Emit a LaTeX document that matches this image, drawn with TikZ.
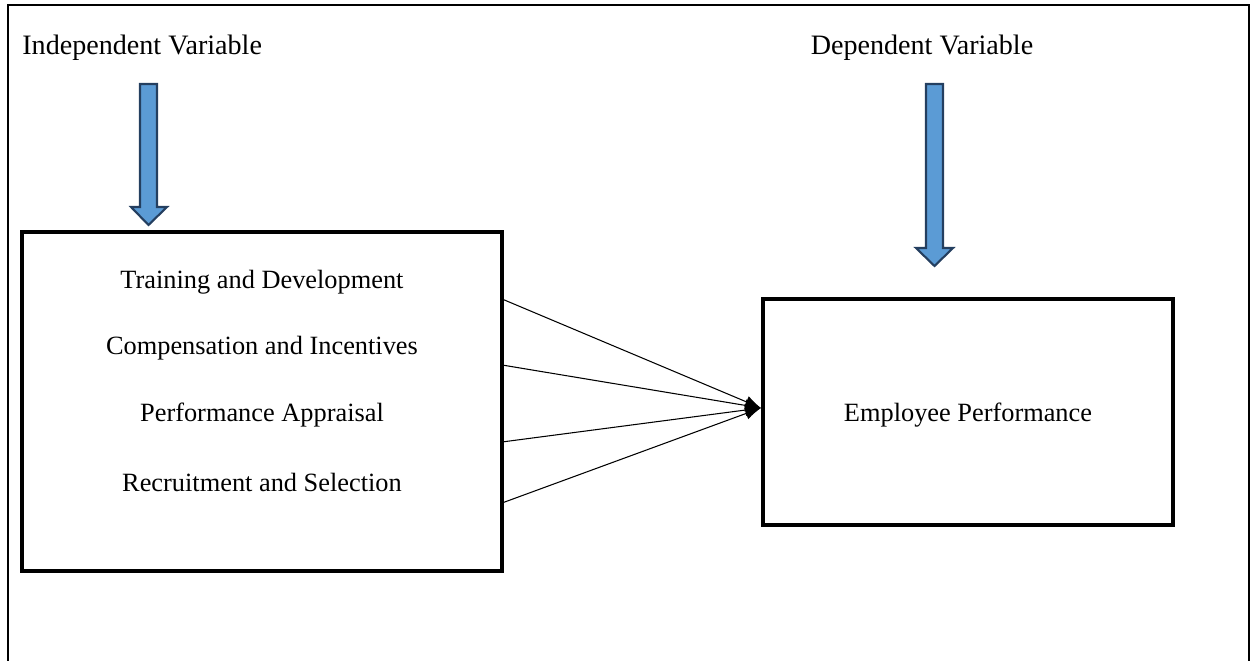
\documentclass[tikz,border=0pt]{standalone}
\usepackage{fontspec}
\setmainfont{Liberation Serif}
\usepackage{tikz}
\usetikzlibrary{arrows.meta}
\usepackage{xcolor}
\definecolor{arrowfill}{HTML}{5B9BD5}
\definecolor{arrowline}{HTML}{243F60}

\begin{document}
\begin{tikzpicture}[x=0.02cm, y=-0.02cm, >={Latex[length=9pt,width=7pt]},
    font=\fontsize{15}{18}\selectfont,
    heading/.style={inner sep=0pt, font=\fontsize{16}{19}\selectfont},
    varbox/.style={draw, line width=2.4pt, rectangle, inner sep=0pt},
    blockarrow/.style={fill=arrowfill, draw=arrowline, line width=1.2pt, line join=miter},
    link/.style={->, line width=0.6pt}]
          \useasboundingbox (0,0) rectangle (1251,661);
          % frame, open at the bottom
          \draw[line width=1.1pt] (8,661) -- (8,5) -- (1249,5) -- (1249,661);
          % headings
          \node[heading, anchor=west] (indep) at (22,48) {Independent Variable};
          \node[heading] (dep) at (922,48) {Dependent Variable};
          % block arrows
          \draw[blockarrow] (140,84) -- (157,84) -- (157,207) -- (167,207)
            -- (148.5,225) -- (131,207) -- (140,207) -- cycle;
          \draw[blockarrow] (926,84) -- (943,84) -- (943,248) -- (953,248)
            -- (934.5,266) -- (916,248) -- (926,248) -- cycle;
          % boxes
          \node[varbox, minimum width=9.6cm, minimum height=6.78cm] (lbox) at (262,401.5) {};
          \node[varbox, minimum width=8.2cm, minimum height=4.52cm] (rbox) at (968,412) {};
          \node (t1) at (262,282) {Training and Development};
          \node (t2) at (262,348) {Compensation and Incentives};
          \node (t3) at (262,415) {Performance Appraisal};
          \node (t4) at (262,482) {Recruitment and Selection};
          \node (ep) at (968,415) {Employee Performance};
          % links
          \coordinate (hub) at (761,408);
          \foreach \yy [count=\i] in {299,365,442,503}
            \coordinate (s\i) at (502,\yy);
          \foreach \i in {1,...,4}
            \draw[link] (s\i) -- (hub);
        \end{tikzpicture}
\end{document}
